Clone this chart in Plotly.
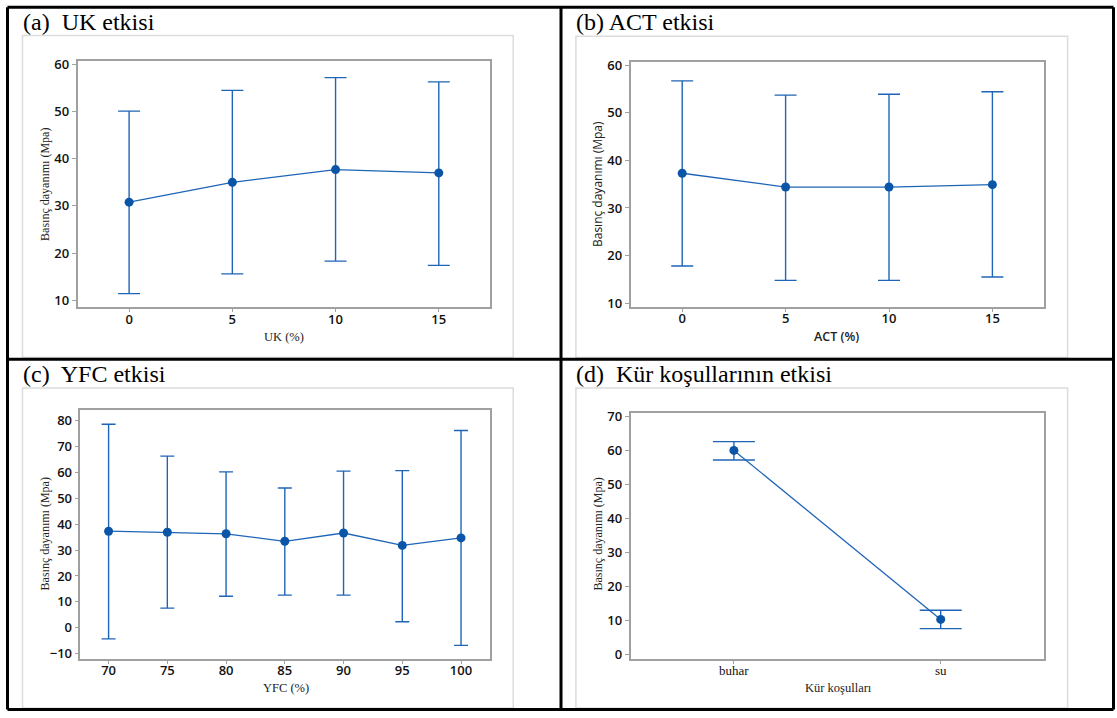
import plotly.graph_objects as go

# ---------------- data ----------------
uk_x = [0, 5, 10, 15]
uk_mean = [30.8, 35.0, 37.7, 37.0]
uk_upper = [50.1, 54.5, 57.2, 56.3]
uk_lower = [11.4, 15.6, 18.3, 17.4]

act_x = [0, 5, 10, 15]
act_mean = [37.3, 34.4, 34.4, 34.9]
act_upper = [56.7, 53.7, 53.9, 54.4]
act_lower = [17.8, 14.8, 14.8, 15.5]

yfc_x = [70, 75, 80, 85, 90, 95, 100]
yfc_mean = [37.3, 36.9, 36.3, 33.4, 36.6, 31.8, 34.7]
yfc_upper = [78.6, 66.3, 60.2, 54.0, 60.5, 60.7, 76.2]
yfc_lower = [-4.3, 7.6, 12.2, 12.6, 12.6, 2.3, -6.8]

kur_x = ["buhar", "su"]
kur_mean = [60.1, 10.4]
kur_upper = [62.7, 13.1]
kur_lower = [57.3, 7.7]

titles = ["(a)\u00a0 UK etkisi", "(b) ACT etkisi", "(c)\u00a0 YFC etkisi", "(d)\u00a0 Kür koşullarının etkisi"]
ytitle = "Basınç dayanımı (Mpa)"
xtitles = ["UK (%)", "ACT (%)", "YFC (%)", "Kür koşulları"]

# ---------------- layout helpers ----------------
W, H = 1117, 718
SERIF = "Liberation Serif"
SANS = "Open Sans"
LINE = "#1F65B7"
MARK = "#0B55A8"


def px(x):
    return x / W


def py(y):
    return 1 - y / H


fig = go.Figure()

panels = [
    dict(x=uk_x, m=uk_mean, u=uk_upper, l=uk_lower, cap=11,
         box=(77.5, 490.4, 56, 306), xr=[-2.5, 17.5], yr=[8.5, 60.7],
         yt=[10, 20, 30, 40, 50, 60], xt=uk_x),
    dict(x=act_x, m=act_mean, u=act_upper, l=act_lower, cap=11,
         box=(630.5, 1044.1, 56.7, 305.7), xr=[-2.5, 17.5], yr=[9.2, 60.7],
         yt=[10, 20, 30, 40, 50, 60], xt=act_x),
    dict(x=yfc_x, m=yfc_mean, u=yfc_upper, l=yfc_lower, cap=7,
         box=(80.4, 490.4, 410.3, 663), xr=[67.6, 102.5], yr=[-12.0, 84.1],
         yt=[-10, 0, 10, 20, 30, 40, 50, 60, 70, 80], xt=yfc_x),
    dict(x=kur_x, m=kur_mean, u=kur_upper, l=kur_lower, cap=21,
         box=(630.5, 1044.1, 413.7, 663), xr=[-0.5, 1.5], yr=[-1.2, 71.0],
         yt=[0, 10, 20, 30, 40, 50, 60, 70], xt=None),
]

for i, p in enumerate(panels):
    n = "" if i == 0 else str(i + 1)
    fig.add_trace(go.Scatter(
        x=p["x"], y=p["m"], mode="lines+markers",
        line=dict(color=LINE, width=1.3),
        marker=dict(color=MARK, size=9),
        error_y=dict(type="data", symmetric=False,
                     array=[u - m for u, m in zip(p["u"], p["m"])],
                     arrayminus=[m - l for m, l in zip(p["m"], p["l"])],
                     color=LINE, thickness=1.4, width=p["cap"]),
        xaxis="x" + n, yaxis="y" + n, showlegend=False, cliponaxis=False,
    ))
    x0, x1, y0, y1 = p["box"]
    tickfont = dict(family=SANS, size=13, color="#111111", weight=600)
    xa = dict(domain=[px(x0), px(x1)], range=p["xr"], anchor="y" + n,
              showline=True, mirror=True, linecolor="#a0a0a0", linewidth=1.5,
              ticks="outside", ticklen=3, tickcolor="#a0a0a0", showgrid=False,
              zeroline=False, tickfont=tickfont, ticklabelstandoff=-4)
    if p["xt"] is not None:
        xa["tickvals"] = p["xt"]
    else:
        xa["type"] = "category"
        xa["tickfont"] = dict(family=SERIF, size=13, color="#111111")
    ya = dict(domain=[py(y1), py(y0)], range=p["yr"], anchor="x" + n,
              showline=True, mirror=True, linecolor="#a0a0a0", linewidth=1.5,
              ticks="outside", ticklen=4, tickcolor="#a0a0a0", showgrid=False,
              zeroline=False, tickvals=p["yt"], tickfont=tickfont)
    fig.layout["xaxis" + n] = xa
    fig.layout["yaxis" + n] = ya

shapes = []
# light gray inner frames
for (fx0, fx1, fy0, fy1) in [(22.5, 513.2, 30, 357), (575.9, 1067.6, 30.7, 357),
                             (22.5, 513.2, 388, 713), (575.9, 1067.6, 388, 713)]:
    shapes.append(dict(type="rect", xref="paper", yref="paper",
                       x0=px(fx0), x1=px(fx1), y0=py(fy1), y1=py(fy0),
                       line=dict(color="#dcdcdc", width=1.5), layer="below"))
# black table borders
for (a, b, c, d) in [(7.5, 1113.5, 1.2, 1.2), (7.5, 1113.5, 358.7, 358.7),
                     (7.5, 1113.5, 714.5, 714.5), (7.5, 7.5, 1.2, 714.5),
                     (561, 561, 1.2, 714.5), (1113.5, 1113.5, 1.2, 714.5)]:
    shapes.append(dict(type="line", xref="paper", yref="paper",
                       x0=px(a), x1=px(b), y0=py(c), y1=py(d),
                       line=dict(color="black", width=3)))

ann = []
# panel titles
for t, (tx, ty) in zip(titles, [(21, 16.5), (574, 16.5), (21, 374), (574, 374)]):
    ann.append(dict(text=t, x=px(tx), y=py(ty), xref="paper", yref="paper",
                    xanchor="left", yanchor="middle", showarrow=False,
                    font=dict(family=SERIF, size=24, color="black")))
# y titles
for (tx, ty), fam in zip([(45.7, 181), (597.3, 180.5), (44.6, 536), (598, 536.7)],
                         [SERIF, SANS, SERIF, SERIF]):
    ann.append(dict(text=ytitle, x=px(tx), y=py(ty), xref="paper", yref="paper",
                    xanchor="center", yanchor="middle", showarrow=False, textangle=-90,
                    font=dict(family=fam, size=12, color="#222")))
# x titles
for t, (tx, ty), fam in zip(xtitles, [(283.6, 336), (836.9, 336), (285.7, 693), (838, 693)],
                            [SERIF, SANS, SERIF, SERIF]):
    f = dict(family=fam, size=12.5, color="#222")
    if fam == SANS:
        f["weight"] = 600
    ann.append(dict(text=t, x=px(tx), y=py(ty), xref="paper", yref="paper",
                    xanchor="center", yanchor="middle", showarrow=False, font=f))

fig.update_layout(width=W, height=H, margin=dict(l=0, r=0, t=0, b=0),
                  paper_bgcolor="white", plot_bgcolor="white",
                  shapes=shapes, annotations=ann)

fig.write_html("out.html")
